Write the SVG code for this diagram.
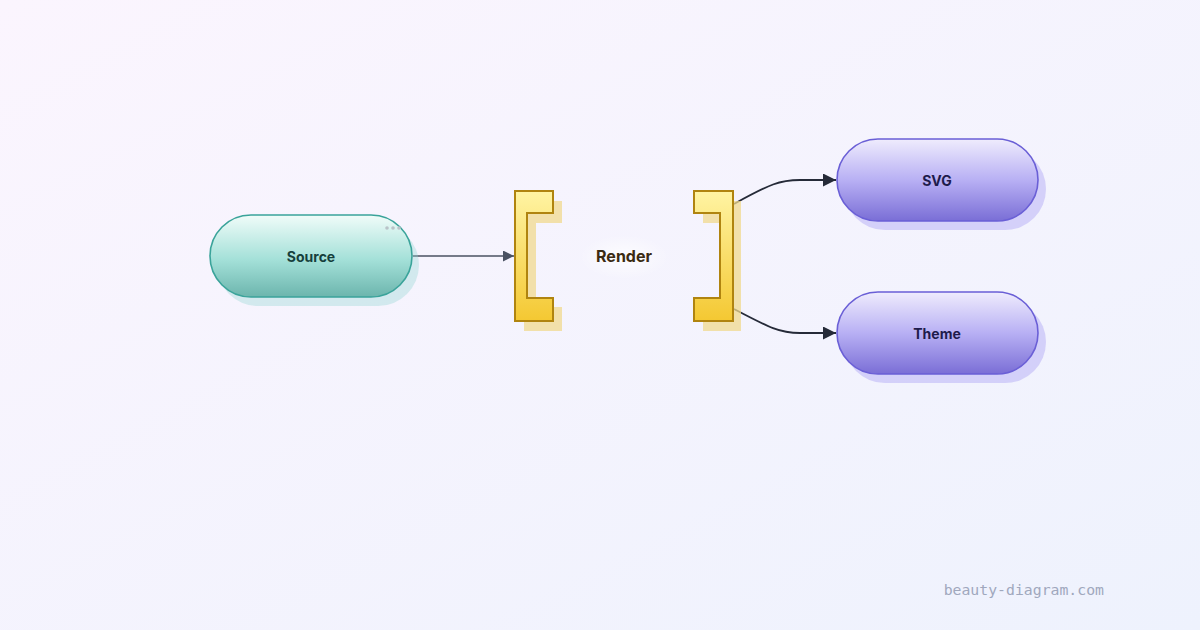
<svg xmlns="http://www.w3.org/2000/svg" width="1200" height="630" viewBox="0 0 1200 630">
<defs>
<linearGradient id="bg" x1="0" y1="0" x2="1" y2="1">
<stop offset="0" stop-color="#fbf5fe"/>
<stop offset="1" stop-color="#eef2fd"/>
</linearGradient>
<linearGradient id="gTeal" x1="0" y1="0" x2="0" y2="1">
<stop offset="0" stop-color="#f0fcf9"/>
<stop offset="0.55" stop-color="#a3e0d8"/>
<stop offset="1" stop-color="#6cb5ad"/>
</linearGradient>
<linearGradient id="gPurple" x1="0" y1="0" x2="0" y2="1">
<stop offset="0" stop-color="#efecfd"/>
<stop offset="0.5" stop-color="#b8b0f4"/>
<stop offset="1" stop-color="#7a6ed6"/>
</linearGradient>
<linearGradient id="gGold" x1="0" y1="0" x2="0" y2="1">
<stop offset="0" stop-color="#fff4a3"/>
<stop offset="1" stop-color="#f4c832"/>
</linearGradient>
<radialGradient id="glow">
<stop offset="0" stop-color="#ffffff" stop-opacity="0.8"/>
<stop offset="1" stop-color="#ffffff" stop-opacity="0"/>
</radialGradient>
<marker id="arrG" viewBox="0 0 10 10" refX="10" refY="5" markerWidth="11" markerHeight="11" markerUnits="userSpaceOnUse" orient="auto">
<path d="M0,0 L10,5 L0,10 z" fill="#4a5262"/>
</marker>
<marker id="arrD" viewBox="0 0 10 10" refX="10" refY="5" markerWidth="13" markerHeight="13" markerUnits="userSpaceOnUse" orient="auto">
<path d="M0,0 L10,5 L0,10 z" fill="#252a38"/>
</marker>
<style>
.lbl{font-family:Inter,"Liberation Sans",sans-serif;font-weight:700;font-size:14px;text-anchor:middle;dominant-baseline:central}
.conn{fill:none}
</style>
</defs>
<rect width="1200" height="630" fill="url(#bg)"/>

<g id="connectors">
<path class="conn" d="M413,256 L514,256" stroke="#4a5262" stroke-width="1.3" marker-end="url(#arrG)"/>
<path class="conn" d="M734,204 C770,184 780,180 800,180 L836,180" stroke="#252a38" stroke-width="1.8" marker-end="url(#arrD)"/>
<path class="conn" d="M734,309 C770,328 780,333 800,333 L836,333" stroke="#252a38" stroke-width="1.8" marker-end="url(#arrD)"/>
</g>

<g id="source">
<rect x="217" y="224" width="202" height="82" rx="41" fill="#8fd3d0" opacity="0.35"/>
<rect x="210" y="215" width="202" height="82" rx="41" fill="url(#gTeal)" stroke="#3aa39a" stroke-width="1.6"/>
<circle cx="387" cy="228" r="1.8" fill="#b9c3c8"/>
<circle cx="393" cy="228" r="1.8" fill="#b9c3c8"/>
<circle cx="399" cy="228" r="1.8" fill="#b9c3c8"/>
<text class="lbl" x="311" y="256" fill="#163f3c">Source</text>
</g>

<g id="render">
<ellipse cx="624" cy="257" rx="45" ry="22" fill="url(#glow)"/>
<path d="M524,201 h38 v22 h-26 v84 h26 v24 h-38 z" fill="#f0d98e" opacity="0.75"/>
<path d="M515,191 h38 v22 h-26 v85 h26 v23 h-38 z" fill="url(#gGold)" stroke="#b0840f" stroke-width="2"/>
<path d="M703,201 h38 v130 h-38 v-24 h26 v-84 h-26 z" fill="#f0d98e" opacity="0.75"/>
<path d="M694,191 h39 v130 h-39 v-23 h26 v-85 h-26 z" fill="url(#gGold)" stroke="#b0840f" stroke-width="2"/>
<text class="lbl" x="624" y="256" fill="#3b2a12" style="font-size:16px">Render</text>
</g>

<g id="svg">
<rect x="844" y="148" width="202" height="82" rx="41" fill="#b9b2f5" opacity="0.55"/>
<rect x="837" y="139" width="201" height="82" rx="41" fill="url(#gPurple)" stroke="#6a5fd6" stroke-width="1.6"/>
<text class="lbl" x="937" y="180" fill="#1e1b4b">SVG</text>
</g>

<g id="theme">
<rect x="844" y="301" width="202" height="82" rx="41" fill="#b9b2f5" opacity="0.55"/>
<rect x="837" y="292" width="201" height="82" rx="41" fill="url(#gPurple)" stroke="#6a5fd6" stroke-width="1.6"/>
<text class="lbl" x="937" y="333" fill="#1e1b4b">Theme</text>
</g>

<text x="1104" y="589" font-family="'DejaVu Sans Mono','Liberation Mono',monospace" font-size="14.8" fill="#a0a8bd" text-anchor="end" dominant-baseline="central">beauty-diagram.com</text>
</svg>
